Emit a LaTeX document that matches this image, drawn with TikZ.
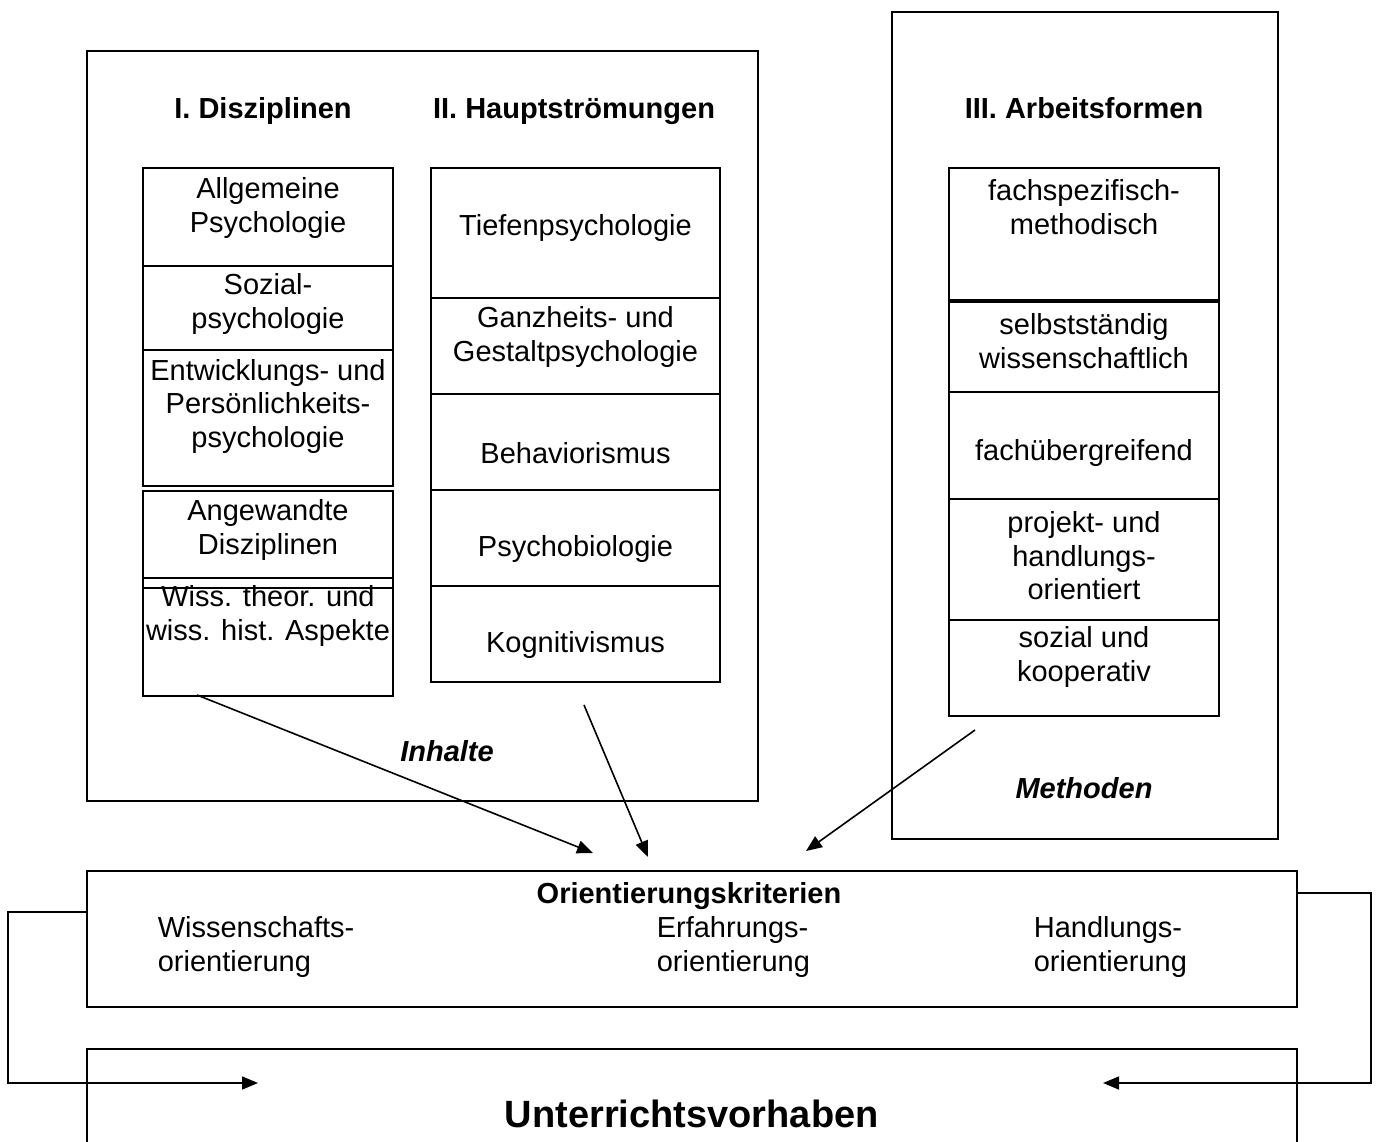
\documentclass[tikz,border=0pt]{standalone}
\usepackage{fontspec}
\setmainfont{Liberation Sans}
\usetikzlibrary{arrows.meta}
\begin{document}
\begin{tikzpicture}[x=1pt, y=-1pt, line width=1.6pt,
      every node/.style={font=\fontsize{29}{33.5}\selectfont, align=center, inner sep=0pt},
      cell/.style={draw, anchor=north},
      head/.style={font=\fontsize{29}{33.5}\selectfont\bfseries, text height=22pt, text depth=6pt},
      tag/.style={font=\fontsize{29}{33.5}\selectfont\bfseries\itshape},
      pfeil/.style={-{Triangle[length=16pt, width=13pt]}}]
   \useasboundingbox (0,0) rectangle (1378,1142);
   \clip (0,0) rectangle (1378,1142);
   % frames
   \node[draw, anchor=north west, minimum width=671pt, minimum height=750pt] (inhalt) at (86,50) {};
   \node[draw, anchor=north west, minimum width=386pt, minimum height=827pt] (methode) at (891,11) {};
   \node[head] (h1) at (263,111) {I. Disziplinen};
   \node[head] (h2) at (574,111) {II. Hauptströmungen};
   \node[head] (h3) at (1084,111) {III. Arbeitsformen};
   \begin{scope}
      \def \ColA {
         a1/167/265/208/{Allgemeine\\Psychologie},
         a2/265/349/304/{Sozial-\\psychologie},
         a3/349/485/406/{Entwicklungs- und\\Persönlichkeits-\\psychologie},
         a4/490/587/530/{Angewandte\\Disziplinen},
         a5/577/695/616/{Wiss. theor. und\\wiss. hist. Aspekte}}
      \foreach \n / \t / \b / \c / \txt in \ColA {
         \pgfmathsetmacro\h{\b-\t}
         \node[cell, minimum width=250pt, minimum height=\h pt] (\n) at (268,\t) {};
         \node (\n t) at (268,\c) {\txt};
      }
   \end{scope}
   \begin{scope}
      \def \ColB {
         b1/167/297/228/{Tiefenpsychologie},
         b2/297/393/337/{Ganzheits- und\\Gestaltpsychologie},
         b3/393/489/453/{Behaviorismus},
         b4/489/585/549/{Psychobiologie},
         b5/585/681/645/{Kognitivismus}}
      \foreach \n / \t / \b / \c / \txt in \ColB {
         \pgfmathsetmacro\h{\b-\t}
         \node[cell, minimum width=289pt, minimum height=\h pt] (\n) at (575.5,\t) {};
         \node (\n t) at (575.5,\c) {\txt};
      }
   \end{scope}
   \begin{scope}
      \def \ColC {
         c1/167/299/207/{fachspezifisch-\\methodisch},
         c2/301/391/341/{selbstständig\\wissenschaftlich},
         c3/391/498/453/{fachübergreifend},
         c4/498/619/556/{projekt- und\\handlungs-\\orientiert},
         c5/619/715/657/{sozial und\\kooperativ}}
      \foreach \n / \t / \b / \c / \txt in \ColC {
         \pgfmathsetmacro\h{\b-\t}
         \node[cell, minimum width=270pt, minimum height=\h pt] (\n) at (1084,\t) {};
         \node (\n t) at (1084,\c) {\txt};
      }
   \end{scope}
   \node[tag] (inh) at (447,751) {Inhalte};
   \node[tag] (met) at (1084,788) {Methoden};
   % criteria
   \node[draw, anchor=north west, minimum width=1210pt, minimum height=136pt] (ok) at (86,870) {};
   \node[head] (okt) at (689,895) {Orientierungskriterien};
   \node[anchor=west, align=left] (o1) at (157,947) {Wissenschafts-\\orientierung};
   \node[anchor=west, align=left] (o2) at (656,947) {Erfahrungs-\\orientierung};
   \node[anchor=west, align=left] (o3) at (1033,947) {Handlungs-\\orientierung};
   \node[draw, anchor=north west, minimum width=1210pt, minimum height=130pt,
      font=\fontsize{38}{44}\selectfont\bfseries] (uv) at (86,1048) {Unterrichtsvorhaben};
   % arrows
   \coordinate (p1) at (197,695);
   \coordinate (q1) at (593,853);
   \coordinate (p2) at (584,705);
   \coordinate (q2) at (648,857);
   \coordinate (p3) at (975,730);
   \coordinate (q3) at (806,851);
   \coordinate (l1) at (258,1083);
   \coordinate (r1) at (1103,1083);
   \path[draw, pfeil] (p1) -- (q1);
   \path[draw, pfeil] (p2) -- (q2);
   \path[draw, pfeil] (p3) -- (q3);
   \path[draw, pfeil] ([yshift=27pt]ok.west) -| (8,1083) -- (l1);
   \path[draw, pfeil] ([yshift=46pt]ok.east) -| (1371,1083) -- (r1);
\end{tikzpicture}
\end{document}
